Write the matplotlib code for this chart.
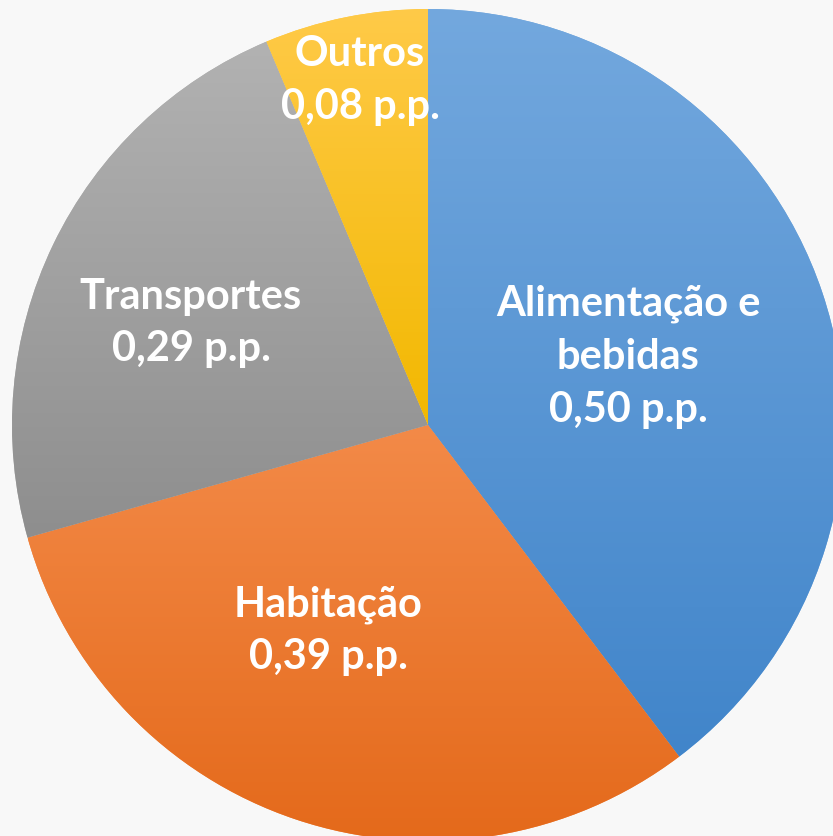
import matplotlib
matplotlib.use("Agg")
import matplotlib.pyplot as plt
import numpy as np
from matplotlib.colors import LinearSegmentedColormap

# Data
categories = ["Alimentação e\nbebidas", "Habitação", "Transportes", "Outros"]
values = [0.50, 0.39, 0.29, 0.08]
value_labels = ["0,50 p.p.", "0,39 p.p.", "0,29 p.p.", "0,08 p.p."]

# gradient colours per slice (top -> bottom)
grad_colors = [("#73a8de", "#4185ca"),
               ("#f38a48", "#e4691a"),
               ("#b2b2b2", "#8e8e8e"),
               ("#ffca48", "#f2b800")]

# label positions (pixel coords, y from top) and line spacing
label_pos = [(628, 357), (328, 631), (191, 323), (360, 80)]
line_step = 53

W, H = 833, 836
cx, cy, R = 428, H - 425, 416

fig = plt.figure(figsize=(W / 100, H / 100), dpi=100)
fig.patch.set_facecolor("#f8f8f8")
ax = fig.add_axes([0, 0, 1, 1])

wedges, _ = ax.pie(values, startangle=90, counterclock=False, center=(cx, cy),
                   radius=R, frame=True,
                   wedgeprops=dict(linewidth=0, antialiased=True))
ax.set_xlim(0, W)
ax.set_ylim(0, H)
ax.set_aspect("equal")
ax.axis("off")

grad = np.linspace(0, 1, 256).reshape(-1, 1)
for w, (c1, c2) in zip(wedges, grad_colors):
    w.set_facecolor(c1)
    verts = w.get_path().vertices
    x0, y0 = verts.min(axis=0)
    x1, y1 = verts.max(axis=0)
    cmap = LinearSegmentedColormap.from_list("g", [c1, c2])
    # row 0 (light colour) at the top of the slice
    im = ax.imshow(grad, cmap=cmap, extent=(x0, x1, y0, y1), origin="upper",
                   aspect="auto", zorder=2, interpolation="bilinear")
    im.set_clip_path(w)

ax.set_xlim(0, W)
ax.set_ylim(0, H)

font = dict(family=["Lato", "DejaVu Sans"], fontweight="bold", fontsize=30,
            color="white", ha="center", va="center", zorder=5)
for cat, lab, (x, y) in zip(categories, value_labels, label_pos):
    lines = cat.split("\n") + [lab]
    n = len(lines)
    for i, line in enumerate(lines):
        yy = y + (i - (n - 1) / 2) * line_step
        ax.text(x, H - yy, line, **font)

fig.savefig("out.png", dpi=100, facecolor=fig.get_facecolor())
